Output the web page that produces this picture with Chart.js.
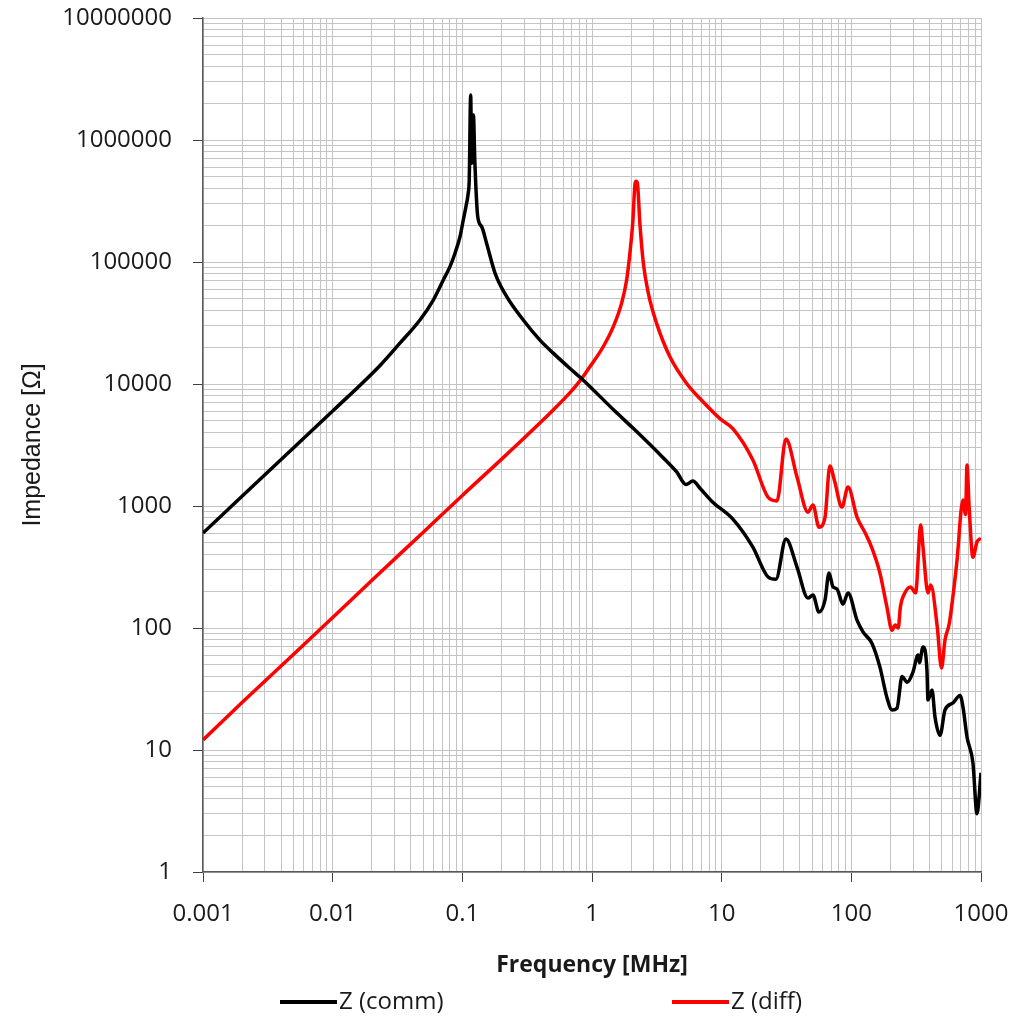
<!DOCTYPE html>
<html>
<head>
<meta charset="utf-8">
<script src="https://cdn.jsdelivr.net/npm/chart.js@4.4.1/dist/chart.umd.min.js"></script>
<style>
  html, body { margin: 0; padding: 0; background: #ffffff; }
  #wrap { position: relative; width: 1033px; height: 1019px; }
</style>
</head>
<body>
<div id="wrap"><canvas id="chart"></canvas></div>
<script>
// Frequency in MHz, impedance in ohms
const commFreq = [0.001, 0.002, 0.005, 0.01, 0.0232, 0.033, 0.0471, 0.0597, 0.0713, 0.0803, 0.0878, 0.0959,
  0.1017, 0.1066, 0.111, 0.113, 0.116, 0.118, 0.1217, 0.125, 0.1315, 0.141, 0.154, 0.179, 0.22, 0.295, 0.397,
  0.5, 0.677, 0.853, 1.5, 2.08, 3.52, 4.5, 5.3, 6.0, 6.8, 8.5, 12.2, 17.4, 22.8, 26.2, 31.3, 38.1, 46.3, 50.6,
  56.3, 62.7, 67.3, 72.2, 77.5, 86.2, 94.3, 110.6, 123, 144, 166, 188, 206, 225, 246, 269, 299, 327, 335, 357,
  383, 390, 419, 442, 483, 528, 608, 689, 726, 780, 867, 931, 1000];
const commZ = [600, 1200, 3000, 6000, 14200, 21600, 33500, 48800, 71200, 91600, 118000, 161000,
  221000, 284000, 366000, 470000, 2340000, 644000, 1600000, 644000, 235000, 195000, 142000, 80800, 52000, 33500, 22900,
  18000, 13400, 10800, 6000, 4330, 2500, 1900, 1500, 1600, 1400, 1080, 780, 460, 262, 251, 537, 316, 176, 186,
  135, 170, 283, 217, 209, 157, 194, 116, 93, 75, 48, 27, 21.3, 22, 40, 36, 43.6, 60, 52, 70,
  45, 25.7, 31, 18.6, 13.2, 21.3, 24.3, 28, 22.5, 12.8, 7.8, 3.0, 6.5];

const diffFreq = [0.001, 0.002, 0.005, 0.01, 0.02, 0.05, 0.1, 0.22, 0.5, 0.677, 0.807, 0.966, 1.22, 1.46,
  1.69, 1.85, 1.96, 2.06, 2.15, 2.19, 2.24, 2.34, 2.49, 2.72, 3.15, 3.99, 5.37, 6.8, 9.7, 12.2, 17.4, 22.8,
  26.7, 31.3, 38.1, 46.3, 50.6, 56.3, 62.7, 68.3, 74.5, 84.5, 94.3, 110.6, 128, 144, 166, 188, 206, 218, 230,
  239, 261, 286, 313, 343, 357, 390, 410, 460, 496, 528, 570, 650, 726, 760, 780, 810, 867, 931, 1000];
const diffZ = [12.1, 24.5, 61, 122, 245, 610, 1220, 2650, 6100, 8500, 10600, 13900, 20200, 29500,
  45800, 71200, 118000, 207000, 442000, 460000, 442000, 207000, 97500, 55400, 31400, 16700, 10100, 7600, 5200, 4300, 2380, 1180,
  1100, 3540, 1730, 890, 1020, 670, 810, 2130, 1580, 980, 1430, 810, 600, 453, 283, 149, 96, 106, 100,
  149, 197, 217, 194, 698, 460, 194, 225, 102, 47, 80, 110, 340, 1120, 850, 2170, 980, 380, 507, 545];

const seriesNames = ['Z (comm)', 'Z (diff)'];
const seriesColors = ['#000000', '#ff0000'];

const xMajorTicks = [0.001, 0.01, 0.1, 1, 10, 100, 1000];
const xTickLabels = ['0.001', '0.01', '0.1', '1', '10', '100', '1000'];
const yMajorTicks = [1, 10, 100, 1000, 10000, 100000, 1000000, 10000000];
const yTickLabels = ['1', '10', '100', '1000', '10000', '100000', '1000000', '10000000'];

function logTicks(majors) {
  const out = [];
  for (let i = 0; i < majors.length - 1; i++) {
    for (let k = 1; k <= 9; k++) {
      out.push({ value: majors[i] * k, major: k === 1 });
    }
  }
  out.push({ value: majors[majors.length - 1], major: true });
  return out;
}

function labelFor(majors, labels, v) {
  for (let i = 0; i < majors.length; i++) {
    if (Math.abs(v / majors[i] - 1) < 1e-6) return labels[i];
  }
  return '';
}

function toPoints(xs, ys) {
  return xs.map((x, i) => ({ x: x, y: ys[i] }));
}

// legend drawn by hand so the two entries sit far apart like the original
const bottomLegend = {
  id: 'bottomLegend',
  afterDraw(chart) {
    const ctx = chart.ctx;
    const starts = [280, 672];
    ctx.save();
    ctx.font = "24px 'Open Sans', sans-serif";
    ctx.textBaseline = 'middle';
    ctx.textAlign = 'left';
    chart.data.datasets.forEach((ds, i) => {
      const y = 1002;
      ctx.strokeStyle = ds.borderColor;
      ctx.lineWidth = 4;
      ctx.beginPath();
      ctx.moveTo(starts[i], y);
      ctx.lineTo(starts[i] + 57, y);
      ctx.stroke();
      ctx.fillStyle = '#1a1a1a';
      ctx.fillText(ds.label, starts[i] + 59, y);
    });
    ctx.restore();
  }
};

const isMajorTick = (c) => c.tick && c.tick.major;

new Chart(document.getElementById('chart'), {
  type: 'line',
  data: {
    datasets: [
      {
        label: seriesNames[0],
        data: toPoints(commFreq, commZ),
        borderColor: seriesColors[0],
        backgroundColor: seriesColors[0],
        borderWidth: 3.5,
        pointRadius: 0,
        cubicInterpolationMode: 'monotone',
      },
      {
        label: seriesNames[1],
        data: toPoints(diffFreq, diffZ),
        borderColor: seriesColors[1],
        backgroundColor: seriesColors[1],
        borderWidth: 3.5,
        pointRadius: 0,
        cubicInterpolationMode: 'monotone',
      },
    ],
  },
  options: {
    responsive: true,
    maintainAspectRatio: false,
    animation: false,
    layout: { padding: { top: 18, right: 52, left: 0, bottom: 40 } },
    plugins: {
      legend: { display: false },
      tooltip: { enabled: false },
    },
    scales: {
      x: {
        type: 'logarithmic',
        min: 0.001,
        max: 1000,
        afterBuildTicks: (s) => { s.ticks = logTicks(xMajorTicks); },
        afterFit: (s) => { s.height = 107; s.paddingLeft = 0; s.paddingRight = 0; },
        ticks: {
          autoSkip: false,
          maxRotation: 0,
          padding: 18,
          color: '#1a1a1a',
          font: { family: "'Open Sans', sans-serif", size: 24 },
          callback: (v) => labelFor(xMajorTicks, xTickLabels, v),
        },
        grid: {
          color: '#c4c4c4',
          lineWidth: 1,
          tickLength: 10,
          tickColor: (c) => (isMajorTick(c) ? '#404040' : 'rgba(0,0,0,0)'),
        },
        border: { display: true, color: '#5a5a5a', width: 1.5 },
        title: {
          display: true,
          text: 'Frequency [MHz]',
          color: '#1a1a1a',
          font: { family: "'Open Sans', sans-serif", size: 23, weight: 'bold' },
          padding: { top: 0, bottom: 0 },
        },
      },
      y: {
        type: 'logarithmic',
        min: 1,
        max: 10000000,
        afterBuildTicks: (s) => { s.ticks = logTicks(yMajorTicks); },
        afterFit: (s) => { s.width = 203; s.paddingTop = 0; s.paddingBottom = 0; },
        ticks: {
          autoSkip: false,
          padding: 21,
          color: '#1a1a1a',
          font: { family: "'Open Sans', sans-serif", size: 24 },
          callback: (v) => labelFor(yMajorTicks, yTickLabels, v),
        },
        grid: {
          color: '#c4c4c4',
          lineWidth: 1,
          tickLength: 10,
          tickColor: (c) => (isMajorTick(c) ? '#404040' : 'rgba(0,0,0,0)'),
        },
        border: { display: true, color: '#5a5a5a', width: 1.5 },
        title: {
          display: true,
          text: 'Impedance [Ω]',
          color: '#1a1a1a',
          font: { family: "'Liberation Sans', Arial, sans-serif", size: 25 },
          padding: { top: 18, bottom: 0 },
        },
      },
    },
  },
  plugins: [bottomLegend],
});
</script>
</body>
</html>
